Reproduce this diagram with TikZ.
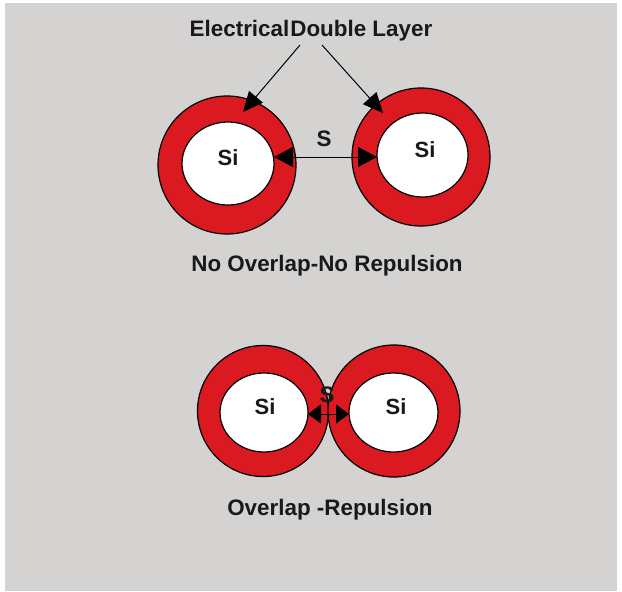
\documentclass[tikz,border=0pt]{standalone}
\usepackage{fontspec}
\setmainfont{Liberation Sans}
\usetikzlibrary{arrows.meta}
\definecolor{bggray}{RGB}{212,211,209}
\definecolor{layerred}{RGB}{218,26,32}
\tikzset{
  layer/.style={draw=black, line width=1.2pt, fill=layerred},
  core/.style={draw=black, line width=1.2pt, fill=white},
  lbl/.style={font=\bfseries\fontsize{22.4}{24}\selectfont, text=black!90},
  silbl/.style={font=\bfseries\fontsize{22}{24}\selectfont, text=black!90},
  pointer/.style={line width=1pt, -{Triangle[length=20pt,width=18pt]}},
  gap/.style={line width=1pt, {Triangle[length=19pt,width=20pt]}-{Triangle[length=19pt,width=20pt]}},
  smallgap/.style={line width=1pt, {Triangle[length=13pt,width=19pt]}-{Triangle[length=13pt,width=19pt]}}
}
\begin{document}
\begin{tikzpicture}[x=1pt,y=-1pt]
  \useasboundingbox (0,0) rectangle (622,592);
  \fill[bggray] (5,3) rectangle (617,591);

  % upper pair: separated double layers
  \draw[layer] (227,165) circle [x radius=69, y radius=69];
  \draw[core] (228,163.5) circle [x radius=46, y radius=41.5];
  \draw[layer] (421,157) circle [x radius=69, y radius=69];
  \draw[core] (422.5,155) circle [x radius=45.5, y radius=42];
  \node[silbl] (si1) at (228,158) {Si};
  \node[silbl] (si2) at (425,150) {Si};
  \coordinate (g1) at (274,157);
  \coordinate (g2) at (377,157);
  \draw[gap] (g1) -- (g2);
  \node[lbl] (s1) at (324,139) {S};

  \node[lbl] (edl) at (311,31) {Electrical\hspace{1pt}Double Layer};
  \coordinate (p1) at (300,45);
  \coordinate (p2) at (322,45);
  \coordinate (t1) at (243,112);
  \coordinate (t2) at (383,113);
  \draw[pointer] (p1) -- (t1);
  \draw[pointer] (p2) -- (t2);

  \node[lbl] (cap1) at (327,266) {No Overlap-No Repulsion};

  % lower pair: overlapping double layers
  \draw[layer] (263,411) circle [x radius=65.5, y radius=65.5];
  \draw[layer] (394,411) circle [x radius=66, y radius=66];
  \draw[core] (264,412.5) circle [x radius=44, y radius=39.5];
  \draw[core] (393.5,412.5) circle [x radius=44.5, y radius=39.5];
  \node[silbl] (si3) at (265,407) {Si};
  \node[silbl] (si4) at (396,407) {Si};
  \coordinate (h1) at (308,414);
  \coordinate (h2) at (349,414);
  \draw[smallgap] (h1) -- (h2);
  \node[lbl] (s2) at (327,395) {S};

  \node[lbl] (cap2) at (330,510) {Overlap -Repulsion};
\end{tikzpicture}
\end{document}
